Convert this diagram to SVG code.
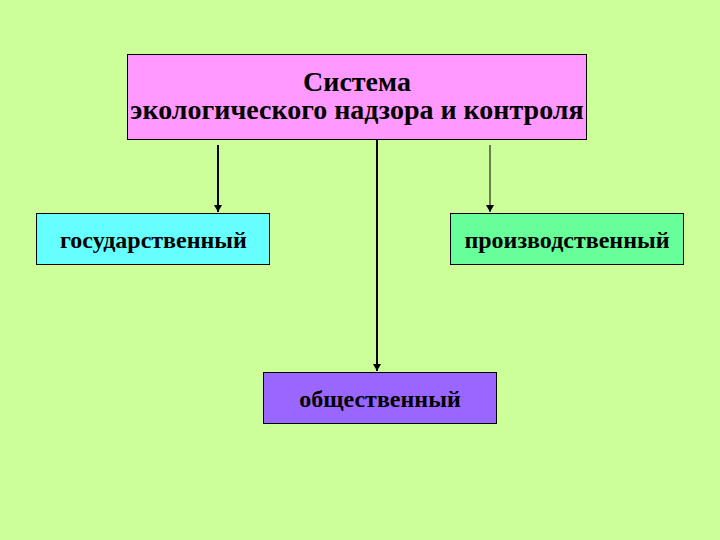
<svg xmlns="http://www.w3.org/2000/svg" width="720" height="540" viewBox="0 0 720 540">
<style>
.box{stroke:#000;stroke-width:1}
.t{font-family:"Liberation Serif","Times New Roman",serif;font-weight:bold;fill:#000;text-anchor:middle}
.c{stroke:#000;fill:none}
</style>
<defs>
<marker id="a2" markerWidth="8" markerHeight="8" refX="7" refY="4" orient="auto" markerUnits="userSpaceOnUse" viewBox="0 0 8 8">
<path d="M0,0 L7,4 L0,8 Z" fill="#000"/>
</marker>
</defs>
<rect width="720" height="540" fill="#CCFF99"/>
<g id="connectors">
<line class="c" x1="218" y1="145" x2="218" y2="212" stroke-width="2" marker-end="url(#a2)"/>
<line class="c" x1="377" y1="139" x2="377" y2="371" stroke-width="2" marker-end="url(#a2)"/>
<line class="c" x1="490" y1="145" x2="490" y2="212" stroke-width="1" marker-end="url(#a2)"/>
</g>
<g id="top">
<rect class="box" x="127.5" y="54.5" width="459" height="85" fill="#FF99FF"/>
<text class="t" x="357" y="91" font-size="28">Система</text>
<text class="t" x="357" y="119" font-size="28">экологического надзора и контроля</text>
</g>
<g id="gos">
<rect class="box" x="36.5" y="213.5" width="233" height="51" fill="#66FFFF"/>
<text class="t" x="153.5" y="248" font-size="24">государственный</text>
</g>
<g id="proizv">
<rect class="box" x="450.5" y="213.5" width="233" height="51" fill="#66FF99"/>
<text class="t" x="567" y="248" font-size="24">производственный</text>
</g>
<g id="obsch">
<rect class="box" x="263.5" y="372.5" width="233" height="51" fill="#9966FF"/>
<text class="t" x="380" y="407" font-size="24" fill="#000033">общественный</text>
</g>
</svg>
